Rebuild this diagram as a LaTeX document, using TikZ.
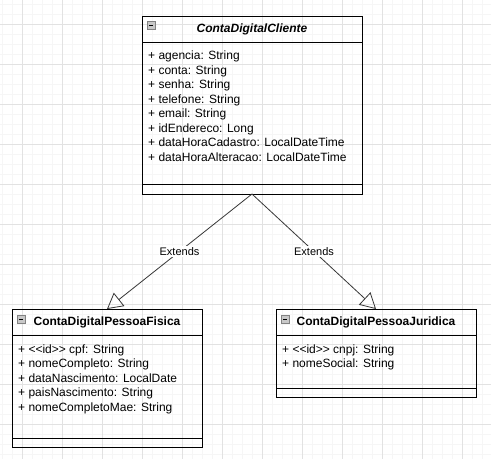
\documentclass[tikz,border=0pt]{standalone}
\usepackage{fontspec}
\setmainfont{Liberation Sans}
\usetikzlibrary{
		positioning,
		arrows.meta
	}
\definecolor{gridminor}{RGB}{246,246,246}
\definecolor{gridmajor}{RGB}{226,226,226}
\definecolor{edgegray}{RGB}{55,55,55}
\definecolor{icongray}{RGB}{200,200,200}
\definecolor{iconline}{RGB}{130,130,130}
\newcommand{\stereo}[1]{<\kern0pt<#1>\kern0pt>}
\tikzset{
		>={Triangle[open,length=15.5pt,width=17pt]}
	}
\begin{document}
\begin{tikzpicture}[x=1pt,y=-1pt,font=\fontsize{12}{14.5}\selectfont]
	\tikzstyle{head}=[draw, rectangle, line width=1pt, minimum height=26pt, inner sep=0pt, outer sep=0pt, font=\fontsize{12}{14.5}\selectfont\bfseries]
	\tikzstyle{part}=[draw, rectangle, line width=1pt, inner sep=0pt, outer sep=0pt]
	\tikzstyle{attr}=[anchor=base west, inner sep=0pt]
	\tikzstyle{collapse}=[draw=iconline, fill=icongray, line width=0.8pt, minimum size=8pt, inner sep=0pt, outer sep=0pt]
	\tikzstyle{ext}=[->, draw=edgegray, line width=0.8pt]
	\tikzstyle{lbl}=[fill=white, inner sep=1pt, font=\fontsize{11}{13}\selectfont]
	% Background grid
	\useasboundingbox (0,0) rectangle (491,459);
	\fill[white] (0,0) rectangle (491,459);
	\foreach \gx in {2,12,...,492} \draw[gridminor, line width=1pt] (\gx,0) -- (\gx,459);
	\foreach \gy in {4,14,...,454} \draw[gridminor, line width=1pt] (0,\gy) -- (491,\gy);
	\foreach \gx in {22,62,...,462} \draw[gridmajor, line width=1pt] (\gx,0) -- (\gx,459);
	\foreach \gy in {24,64,...,424} \draw[gridmajor, line width=1pt] (0,\gy) -- (491,\gy);
	% ContaDigitalCliente
	\node[head, minimum width=220pt] (cHead) at (252,29) {\textit{ContaDigitalCliente}};
	\node[part, minimum width=220pt, minimum height=142pt] (cBody) [below = 0pt of cHead] {};
	\node[part, minimum width=220pt, minimum height=10pt] (cFoot) [below = 0pt of cBody] {};
	\node[collapse] (cIcon) [below right = 5pt and 5pt of cHead.north west] {\rule{4pt}{1pt}};
	\foreach \t [count=\i] in {+ agencia: String, + conta: String, + senha: String, + telefone: String, + email: String, + idEndereco: Long, + dataHoraCadastro: LocalDateTime, + dataHoraAlteracao: LocalDateTime}
		\node[attr] (cA\i) at ([shift={(6,{17.6+14.5*(\i-1)})}]cBody.north west) {\t};
	% ContaDigitalPessoaFisica
	\node[head, minimum width=190pt] (fHead) at (107,322) {ContaDigitalPessoaFisica};
	\node[part, minimum width=190pt, minimum height=103pt] (fBody) [below = 0pt of fHead] {};
	\node[part, minimum width=190pt, minimum height=9pt] (fFoot) [below = 0pt of fBody] {};
	\node[collapse] (fIcon) [below right = 6pt and 5pt of fHead.north west] {\rule{4pt}{1pt}};
	\foreach \t [count=\i] in {+ \stereo{id} cpf: String, + nomeCompleto: String, + dataNascimento: LocalDate, + paisNascimento: String, + nomeCompletoMae: String}
		\node[attr] (fA\i) at ([shift={(6,{18+14.5*(\i-1)})}]fBody.north west) {\t};
	% ContaDigitalPessoaJuridica
	\node[head, minimum width=200pt] (jHead) at (376,322) {ContaDigitalPessoaJuridica};
	\node[part, minimum width=200pt, minimum height=53pt] (jBody) [below = 0pt of jHead] {};
	\node[part, minimum width=200pt, minimum height=9pt] (jFoot) [below = 0pt of jBody] {};
	\node[collapse] (jIcon) [below right = 6pt and 5pt of jHead.north west] {\rule{4pt}{1pt}};
	\foreach \t [count=\i] in {+ \stereo{id} cnpj: String, + nomeSocial: String}
		\node[attr] (jA\i) at ([shift={(6,{18+14.5*(\i-1)})}]jBody.north west) {\t};
	% Extends
	\draw[ext] (cFoot.south) -- node[lbl] {Extends} (fHead.north);
	\draw[ext] (cFoot.south) -- node[lbl] {Extends} (jHead.north);
\end{tikzpicture}
\end{document}
